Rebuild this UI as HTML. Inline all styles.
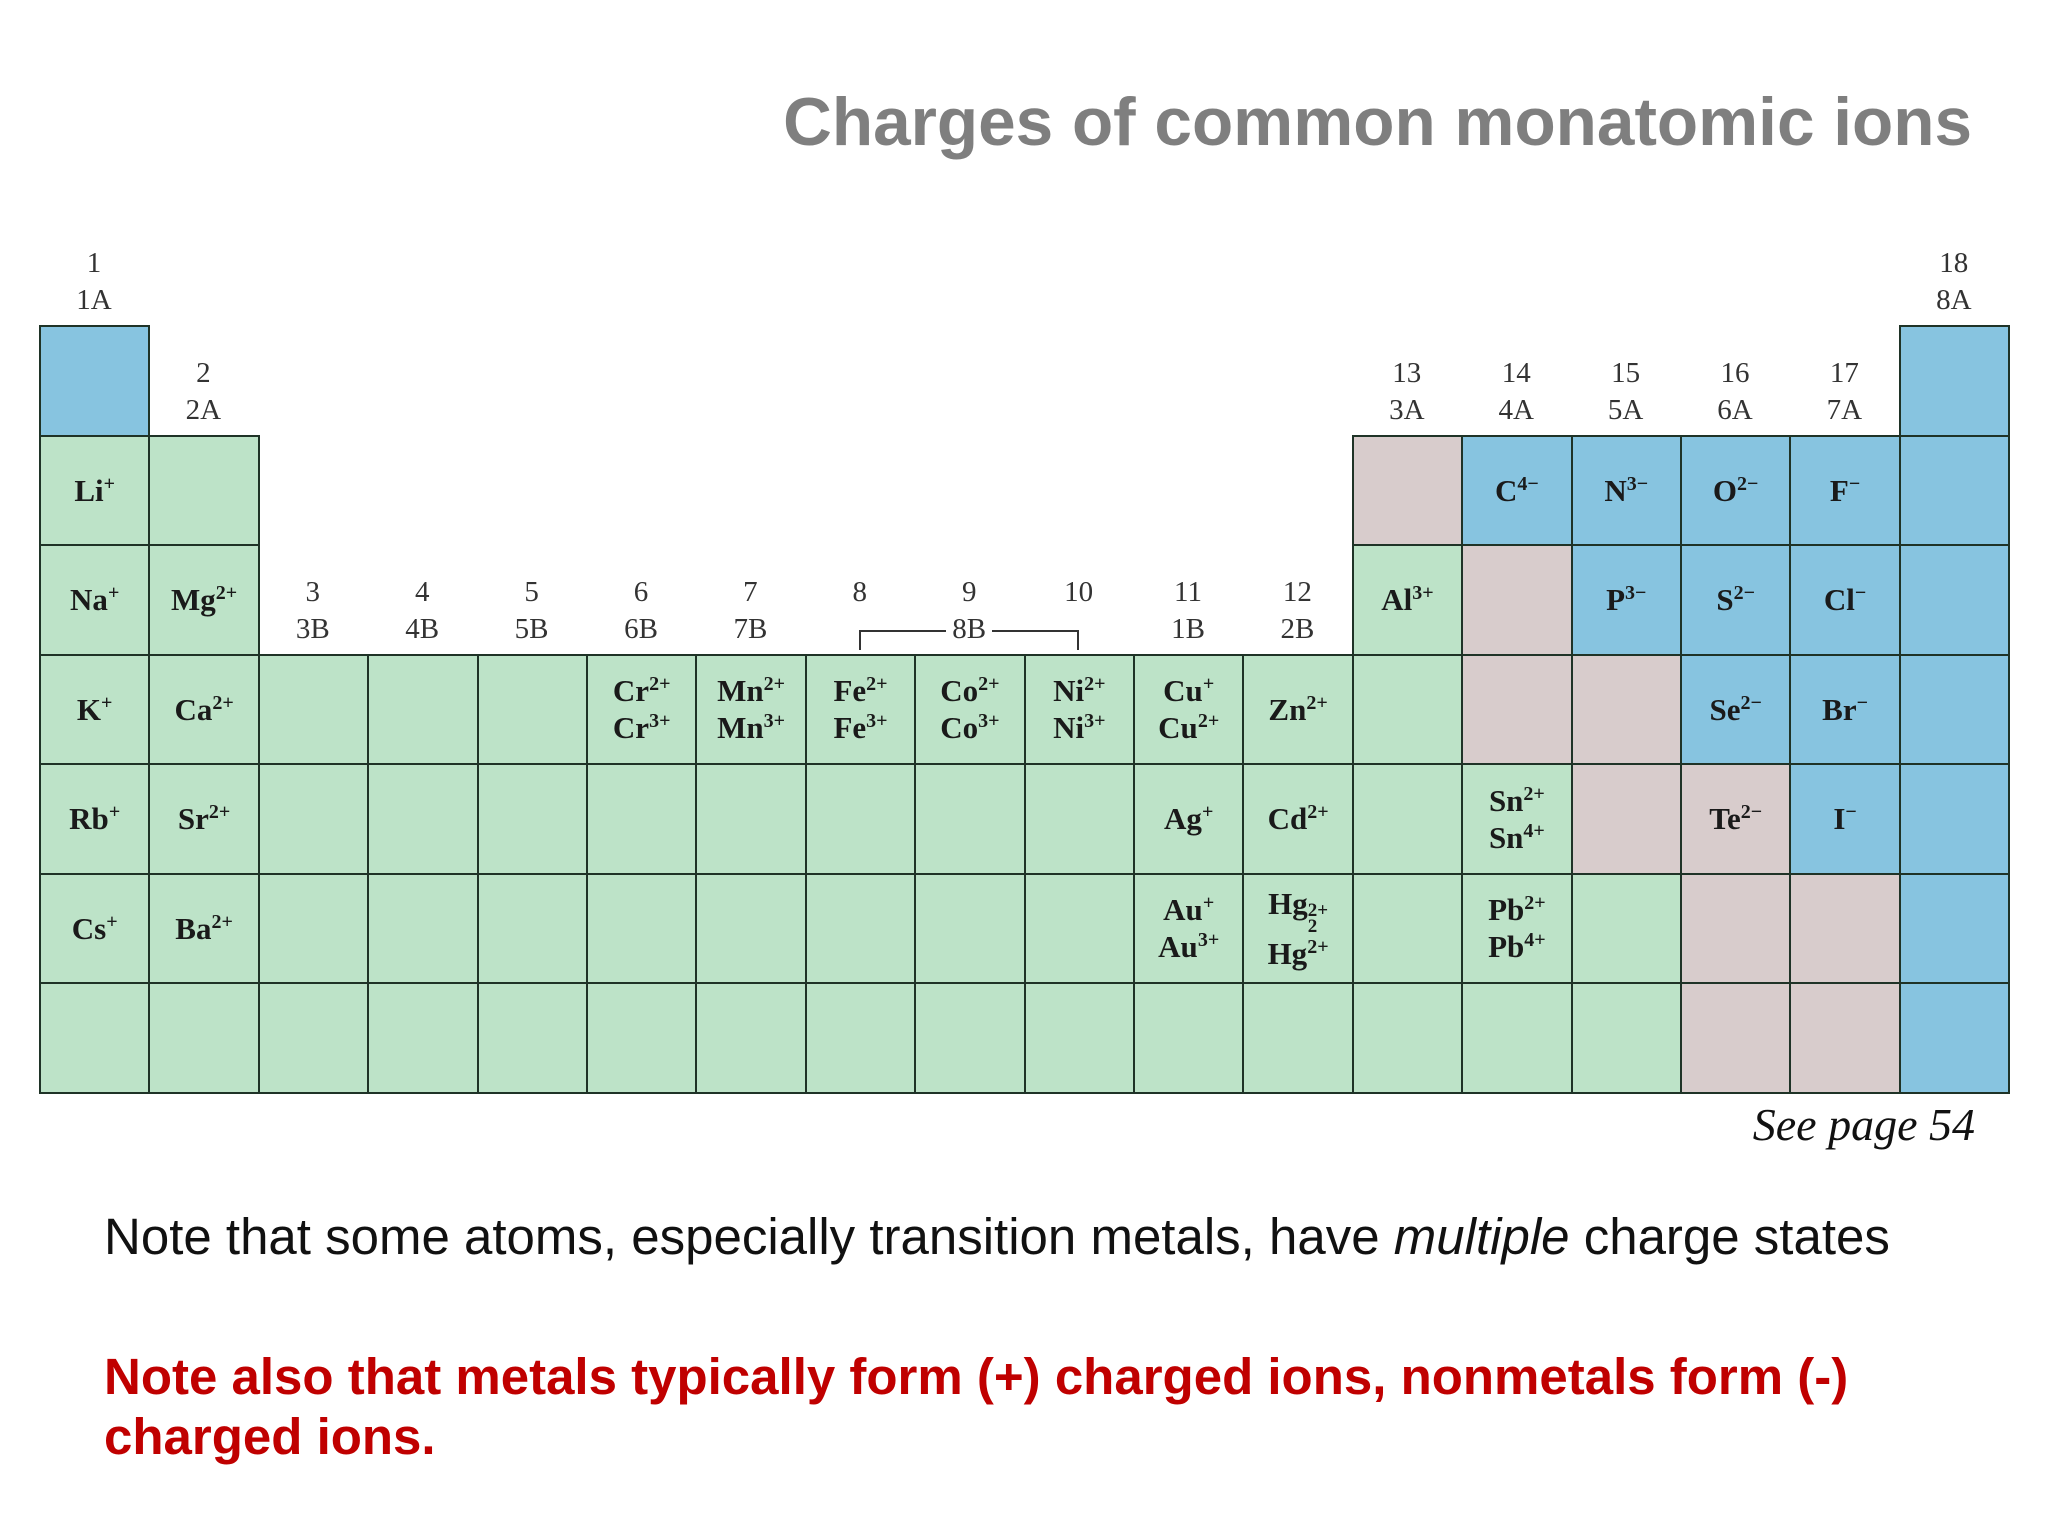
<!DOCTYPE html>
<html><head><meta charset="utf-8"><style>
body{margin:0;width:2048px;height:1536px;background:#fff;position:relative;overflow:hidden;font-family:"Liberation Sans",sans-serif}
.abs{position:absolute}
.cell{position:absolute;box-sizing:border-box;border:2px solid #1f3327;display:flex;flex-direction:column;align-items:center;justify-content:center;font-family:"Liberation Serif",serif;font-weight:bold;font-size:31px;line-height:37px;color:#1a1a1a}
.cell sup{font-size:20px;vertical-align:11px;line-height:0}
.gl{position:absolute;width:110px;text-align:center;font-family:"Liberation Serif",serif;font-size:29px;line-height:37px;color:#333}
</style></head><body>
<div class="abs" style="right:76px;top:84px;font-size:67.5px;font-weight:bold;color:#7f7f7f;white-space:nowrap">Charges of common monatomic ions</div>
<div id="table"></div>
<div class="abs" style="left:859px;top:630px;width:216px;height:18px;border:2px solid #333;border-bottom:none"></div>
<div class="abs" style="right:73px;top:1098px;font-family:'Liberation Serif',serif;font-style:italic;font-size:46px;color:#111">See page 54</div>
<div class="abs" style="left:104px;top:1207px;font-size:51px;color:#111;white-space:nowrap">Note that some atoms, especially transition metals, have <i>multiple</i> charge states</div>
<div class="abs" style="left:104px;top:1347px;font-size:51px;font-weight:bold;color:#c00000;line-height:60px;width:1940px;white-space:nowrap">Note also that metals typically form (+) charged ions, nonmetals form (-)<br>charged ions.</div>
<script>
const X0=39,Y0=325,CW=109.4,RH=109.5;
const colors={b:'#87c4e0',g:'#bde3c8',p:'#d8cccc'};
const columns=[[0,'bgggggg'],[1,'gggggg'],[3,'gggg'],[3,'gggg'],[3,'gggg'],[3,'gggg'],[3,'gggg'],[3,'gggg'],[3,'gggg'],[3,'gggg'],[3,'gggg'],[3,'gggg'],[1,'pggggg'],[1,'bppggg'],[1,'bbppgg'],[1,'bbbppp'],[1,'bbbbpp'],[0,'bbbbbbb']];
const groupNums=['1','2','3','4','5','6','7','8','9','10','11','12','13','14','15','16','17','18'];
const groupAB=['1A','2A','3B','4B','5B','6B','7B','','','','1B','2B','3A','4A','5A','6A','7A','8A'];
const ions={'0,1':['Li<sup>+</sup>'],'0,2':['Na<sup>+</sup>'],'1,2':['Mg<sup>2+</sup>'],'0,3':['K<sup>+</sup>'],'1,3':['Ca<sup>2+</sup>'],
'5,3':['Cr<sup>2+</sup>','Cr<sup>3+</sup>'],'6,3':['Mn<sup>2+</sup>','Mn<sup>3+</sup>'],'7,3':['Fe<sup>2+</sup>','Fe<sup>3+</sup>'],'8,3':['Co<sup>2+</sup>','Co<sup>3+</sup>'],'9,3':['Ni<sup>2+</sup>','Ni<sup>3+</sup>'],'10,3':['Cu<sup>+</sup>','Cu<sup>2+</sup>'],'11,3':['Zn<sup>2+</sup>'],
'0,4':['Rb<sup>+</sup>'],'1,4':['Sr<sup>2+</sup>'],'10,4':['Ag<sup>+</sup>'],'11,4':['Cd<sup>2+</sup>'],'13,4':['Sn<sup>2+</sup>','Sn<sup>4+</sup>'],'15,4':['Te<sup>2&minus;</sup>'],'16,4':['I<sup>&minus;</sup>'],
'0,5':['Cs<sup>+</sup>'],'1,5':['Ba<sup>2+</sup>'],'10,5':['Au<sup>+</sup>','Au<sup>3+</sup>'],'11,5':['Hg<span style="display:inline-flex;flex-direction:column;font-size:19px;line-height:16px;vertical-align:-2px">2+<span>2</span></span>','Hg<sup>2+</sup>'],'13,5':['Pb<sup>2+</sup>','Pb<sup>4+</sup>'],
'12,2':['Al<sup>3+</sup>'],'13,1':['C<sup>4&minus;</sup>'],'14,1':['N<sup>3&minus;</sup>'],'15,1':['O<sup>2&minus;</sup>'],'16,1':['F<sup>&minus;</sup>'],'14,2':['P<sup>3&minus;</sup>'],'15,2':['S<sup>2&minus;</sup>'],'16,2':['Cl<sup>&minus;</sup>'],'15,3':['Se<sup>2&minus;</sup>'],'16,3':['Br<sup>&minus;</sup>']};
const t=document.getElementById('table');
columns.forEach((col,c)=>{
  const [s,str]=col;
  for(let i=0;i<str.length;i++){
    const r=s+i;const d=document.createElement('div');
    
    
    d.className='cell';
    d.style.left=(X0+c*CW)+'px';d.style.top=(Y0+r*RH)+'px';
    d.style.width=(CW+2)+'px';d.style.height=(RH+2)+'px';
    d.style.background=colors[str[i]];
    const ion=ions[c+','+r];
    if(ion)d.innerHTML=ion.map(x=>'<div>'+x+'</div>').join('');
    t.appendChild(d);
  }
  const g=document.createElement('div');
  
  
  g.className='gl';
  g.style.left=(X0+c*CW)+'px';
  g.style.top=(Y0+s*RH-80)+'px';
  g.innerHTML=groupNums[c]+'<br>'+(groupAB[c]||(c==8?'<span style="background:#fff;padding:0 6px;position:relative;z-index:2">8B</span>':'&nbsp;'));
  g.style.zIndex=2;
  t.appendChild(g);
});
</script>
</body></html>
